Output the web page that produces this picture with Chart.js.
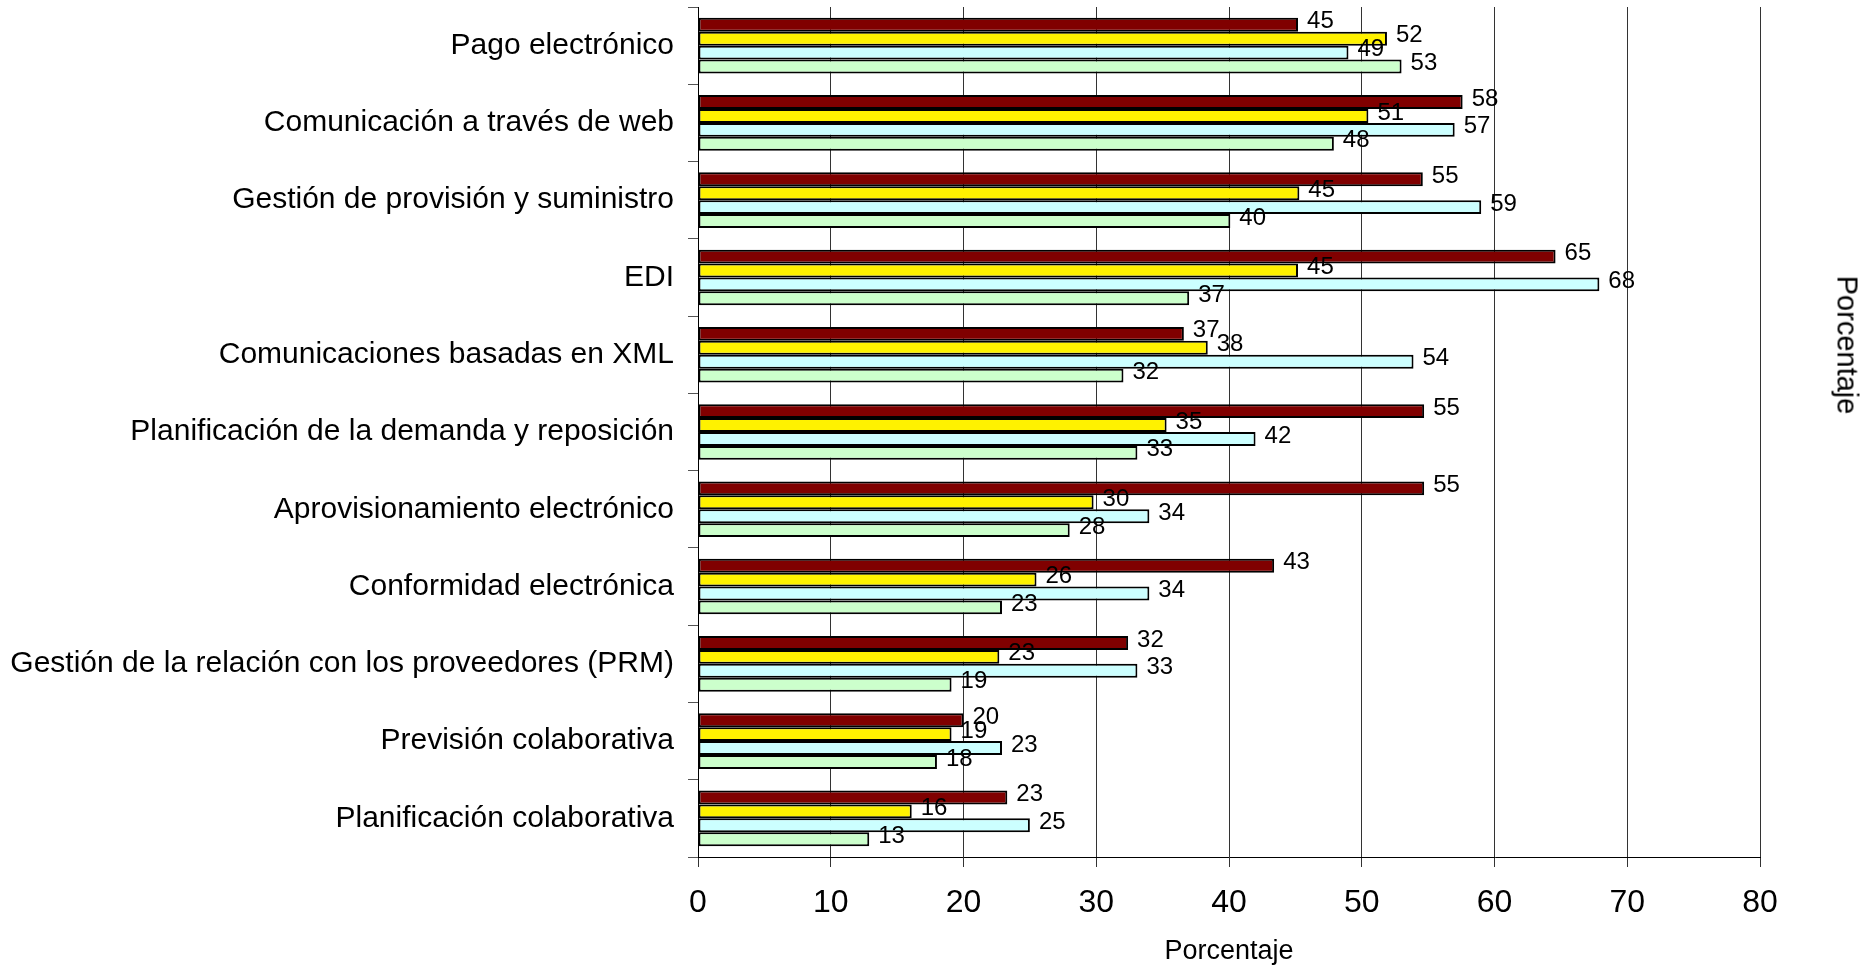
<!DOCTYPE html>
<html>
<head>
<meta charset="utf-8">
<script src="https://cdn.jsdelivr.net/npm/chart.js@4/dist/chart.umd.min.js"></script>
<style>
  html, body { margin: 0; padding: 0; background: #fff; }
  #wrap { position: relative; width: 1871px; height: 965px; overflow: hidden; }
  #rtitle {
    position: absolute; left: 1847px; top: 345px;
    transform: translate(-50%, -50%) rotate(90deg);
    font-family: 'Liberation Sans', Arial, sans-serif; font-size: 29px; color: #000;
    white-space: nowrap;
  }
</style>
</head>
<body>
<div id="wrap">
  <canvas id="c" width="1871" height="965" style="width:1871px;height:965px"></canvas>
  <div id="rtitle">Porcentaje</div>
</div>
<script>
const categories = [
  'Pago electrónico',
  'Comunicación a través de web',
  'Gestión de provisión y suministro',
  'EDI',
  'Comunicaciones basadas en XML',
  'Planificación de la demanda y reposición',
  'Aprovisionamiento electrónico',
  'Conformidad electrónica',
  'Gestión de la relación con los proveedores (PRM)',
  'Previsión colaborativa',
  'Planificación colaborativa'
];
const seriesRed    = [45.2, 57.6, 54.6, 64.6, 36.6, 54.7, 54.7, 43.4, 32.4, 20.0, 23.3];
const seriesYellow = [51.9, 50.5, 45.3, 45.2, 38.4, 35.3, 29.8, 25.5, 22.7, 19.1, 16.1];
const seriesCyan   = [49.0, 57.0, 59.0, 67.9, 53.9, 42.0, 34.0, 34.0, 33.1, 22.9, 25.0];
const seriesGreen  = [53.0, 47.9, 40.1, 37.0, 32.05, 33.1, 28.0, 22.9, 19.1, 18.0, 12.9];
const xTicks = [0, 10, 20, 30, 40, 50, 60, 70, 80];
const axisTitle = 'Porcentaje';

const FONT = "'Liberation Sans', Arial, sans-serif";

const valueLabels = {
  id: 'valueLabels',
  afterDatasetsDraw(chart) {
    const ctx = chart.ctx;
    ctx.save();
    ctx.font = '24px ' + FONT;
    ctx.fillStyle = '#000';
    ctx.textAlign = 'left';
    ctx.textBaseline = 'middle';
    chart.data.datasets.forEach((ds, di) => {
      const meta = chart.getDatasetMeta(di);
      meta.data.forEach((bar, i) => {
        ctx.fillText(String(Math.round(ds.data[i])), bar.x + 9, bar.y - 3);
      });
    });
    ctx.restore();
  }
};

const mk = (label, data, color) => ({
  label, data, backgroundColor: color, borderColor: '#000', borderWidth: 2, borderSkipped: false
});

new Chart(document.getElementById('c'), {
  type: 'bar',
  data: {
    labels: categories,
    datasets: [
      mk('Serie 1', seriesRed, '#800000'),
      mk('Serie 2', seriesYellow, '#FFF200'),
      mk('Serie 3', seriesCyan, '#CCFFFF'),
      mk('Serie 4', seriesGreen, '#CCFFCC')
    ]
  },
  options: {
    indexAxis: 'y',
    responsive: false,
    animation: false,
    devicePixelRatio: 1,
    categoryPercentage: 0.72,
    barPercentage: 1.0,
    layout: { padding: { left: 0, top: 7, right: 111, bottom: 0 } },
    plugins: { legend: { display: false }, tooltip: { enabled: false }, title: { display: false } },
    scales: {
      x: {
        min: 0, max: 80,
        afterFit: s => { s.height = 108; s.paddingLeft = 0; s.paddingRight = 0; },
        afterBuildTicks: s => { s.ticks = xTicks.map(v => ({ value: v })); },
        ticks: { font: { family: FONT, size: 32 }, color: '#000', padding: 17 },
        grid: { color: '#333', lineWidth: 1, tickLength: 10, tickColor: '#333' },
        border: { color: '#000', width: 1 },
        title: { display: true, text: axisTitle, font: { family: FONT, size: 27, lineHeight: 1 }, color: '#000', padding: { top: 0, bottom: 0 } }
      },
      y: {
        afterFit: s => { s.width = 698; s.paddingTop = 0; s.paddingBottom = 0; },
        ticks: { font: { family: FONT, size: 30 }, color: '#000', padding: 14, autoSkip: false },
        grid: { offset: true, drawOnChartArea: false, tickLength: 10, tickColor: '#555' },
        border: { color: '#000', width: 1 }
      }
    }
  },
  plugins: [valueLabels]
});
</script>
</body>
</html>
